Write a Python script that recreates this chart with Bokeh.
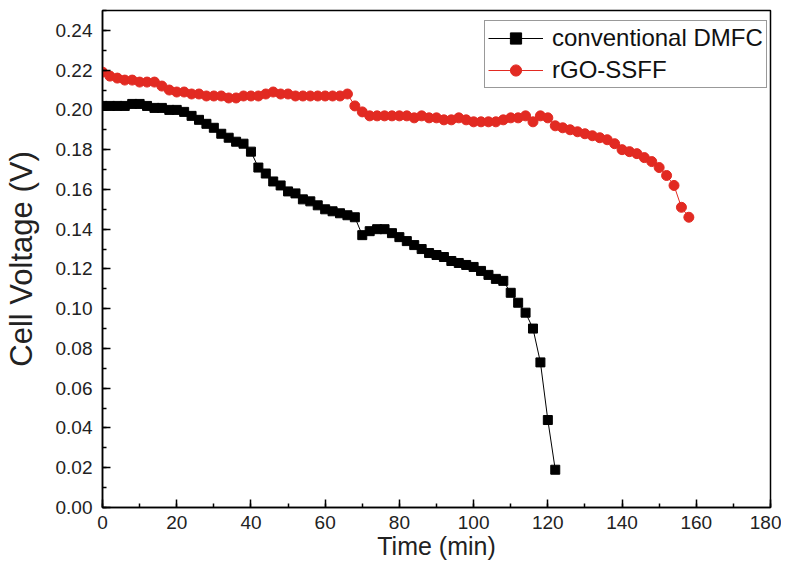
from bokeh.plotting import figure
from bokeh.models import Range1d, SingleIntervalTicker, PrintfTickFormatter, Legend, LegendItem
from bokeh.embed import file_html
from bokeh.resources import INLINE

# ---- data ----
dmfc_time = [0, 2, 4, 6, 8, 10, 12, 14, 16, 18, 20, 22, 24, 26, 28, 30, 32, 34, 36, 38,
             40, 42, 44, 46, 48, 50, 52, 54, 56, 58, 60, 62, 64, 66, 68, 70, 72, 74, 76, 78,
             80, 82, 84, 86, 88, 90, 92, 94, 96, 98, 100, 102, 104, 106, 108, 110, 112, 114,
             116, 118, 120, 122]
dmfc_voltage = [0.202, 0.202, 0.202, 0.202, 0.203, 0.203, 0.202, 0.201, 0.201, 0.200,
                0.200, 0.199, 0.197, 0.195, 0.193, 0.191, 0.188, 0.186, 0.184, 0.183,
                0.179, 0.171, 0.168, 0.164, 0.162, 0.159, 0.158, 0.155, 0.154, 0.152,
                0.150, 0.149, 0.148, 0.147, 0.146, 0.137, 0.139, 0.140, 0.140, 0.138,
                0.136, 0.134, 0.132, 0.130, 0.128, 0.127, 0.126, 0.124, 0.123, 0.122,
                0.121, 0.119, 0.117, 0.115, 0.114, 0.108, 0.103, 0.098, 0.090, 0.073,
                0.044, 0.019]

rgo_time = [0, 2, 4, 6, 8, 10, 12, 14, 16, 18, 20, 22, 24, 26, 28, 30, 32, 34, 36, 38,
            40, 42, 44, 46, 48, 50, 52, 54, 56, 58, 60, 62, 64, 66, 68, 70, 72, 74, 76, 78,
            80, 82, 84, 86, 88, 90, 92, 94, 96, 98, 100, 102, 104, 106, 108, 110, 112, 114,
            116, 118, 120, 122, 124, 126, 128, 130, 132, 134, 136, 138, 140, 142, 144, 146,
            148, 150, 152, 154, 156, 158]
rgo_voltage = [0.219, 0.217, 0.216, 0.215, 0.215, 0.214, 0.214, 0.214, 0.212, 0.210,
               0.209, 0.209, 0.208, 0.208, 0.207, 0.207, 0.207, 0.206, 0.206, 0.207,
               0.207, 0.207, 0.208, 0.209, 0.208, 0.208, 0.207, 0.207, 0.207, 0.207,
               0.207, 0.207, 0.207, 0.208, 0.202, 0.199, 0.197, 0.197, 0.197, 0.197,
               0.197, 0.197, 0.196, 0.197, 0.196, 0.196, 0.195, 0.195, 0.196, 0.195,
               0.194, 0.194, 0.194, 0.194, 0.195, 0.196, 0.196, 0.197, 0.194, 0.197,
               0.196, 0.192, 0.191, 0.190, 0.189, 0.188, 0.187, 0.186, 0.185, 0.183,
               0.180, 0.179, 0.178, 0.176, 0.174, 0.171, 0.167, 0.162, 0.151, 0.146]

series_names = ["conventional DMFC", "rGO-SSFF"]
x_label = "Time (min)"
y_label = "Cell Voltage (V)"

FONT = "Liberation Sans"
RED = "#e22a22"

p = figure(width=781, height=563, output_backend="svg", toolbar_location=None,
           x_range=Range1d(0, 180), y_range=Range1d(0, 0.25),
           min_border_left=100, min_border_right=11, min_border_top=10, min_border_bottom=56)

p.xgrid.visible = False
p.ygrid.visible = False
p.background_fill_color = "white"
p.border_fill_color = "white"
p.outline_line_color = "black"
p.outline_line_width = 1.5

p.xaxis.ticker = SingleIntervalTicker(interval=20, num_minor_ticks=2)
p.yaxis.ticker = SingleIntervalTicker(interval=0.02, num_minor_ticks=2)
p.yaxis.formatter = PrintfTickFormatter(format="%.2f")

for ax in (p.xaxis[0], p.yaxis[0]):
    ax.axis_line_color = "black"
    ax.axis_line_width = 1.5
    ax.major_tick_in = 8
    ax.major_tick_out = 0
    ax.minor_tick_in = 4
    ax.minor_tick_out = 0
    ax.major_tick_line_color = "black"
    ax.minor_tick_line_color = "black"
    ax.major_tick_line_width = 1.5
    ax.minor_tick_line_width = 1.5
    ax.major_label_text_font = FONT
    ax.major_label_text_font_size = "19px"
    ax.major_label_text_color = "#222222"
    ax.axis_label_text_font = FONT
    ax.axis_label_text_font_style = "normal"
    ax.axis_label_text_color = "#222222"

p.xaxis.major_label_standoff = 8
p.yaxis.major_label_standoff = 10
p.xaxis.axis_label = x_label
p.yaxis.axis_label = y_label
p.xaxis.axis_label_text_font_size = "25px"
p.yaxis.axis_label_text_font_size = "31px"
p.xaxis.axis_label_standoff = 0
p.yaxis.axis_label_standoff = 14

l1 = p.line(dmfc_time, dmfc_voltage, line_color="black", line_width=1)
m1 = p.scatter(dmfc_time, dmfc_voltage, marker="square", size=9,
               fill_color="black", line_color="black")
l2 = p.line(rgo_time, rgo_voltage, line_color=RED, line_width=1)
m2 = p.scatter(rgo_time, rgo_voltage, marker="circle", size=10,
               fill_color=RED, line_color=RED)

legend = Legend(items=[LegendItem(label=series_names[0], renderers=[l1, m1]),
                       LegendItem(label=series_names[1], renderers=[l2, m2])],
                location=(382, 419))
legend.label_text_font = FONT
legend.label_text_font_size = "24px"
legend.label_text_color = "#111111"
legend.glyph_width = 55
legend.glyph_height = 28
legend.label_height = 28
legend.label_standoff = 9
legend.spacing = 4
legend.padding = 3
legend.margin = 0
legend.border_line_color = "#333333"
legend.border_line_width = 1.5
legend.background_fill_alpha = 1
p.add_layout(legend, "center")

open("out.html", "w").write(file_html(p, INLINE))
